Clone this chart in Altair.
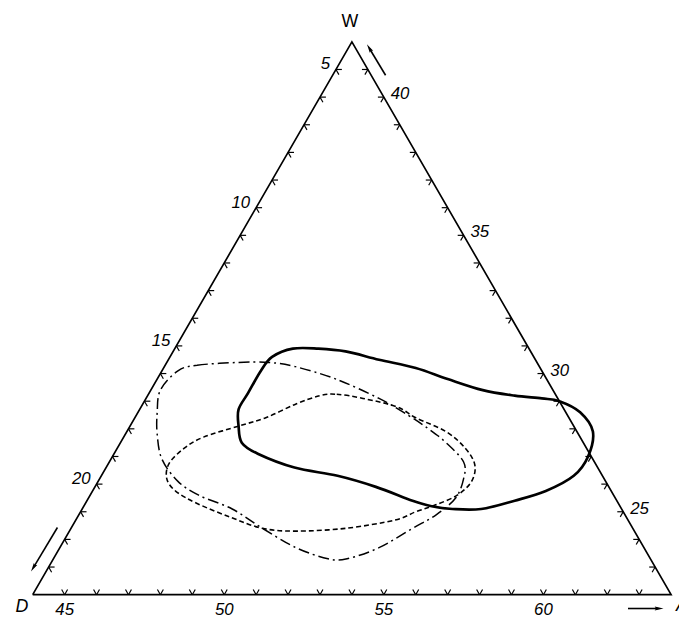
import math
import altair as alt
import pandas as pd

# Ternary ranges: A (bottom, 44..64), W (right edge, 22..42), D (left edge, 4..24); A+W+D = 90
A_MIN, W_MIN, D_MIN, SPAN, TOTAL = 44, 22, 4, 20, 90

bottom_ticks = list(range(45, 64))   # A values
right_ticks = list(range(23, 42))    # W values
left_ticks = list(range(5, 24))      # D values
bottom_labels = [45, 50, 55, 60]
right_labels = [25, 30, 35, 40]
left_labels = [5, 10, 15, 20]

# closed curves, as (A, W) compositions
solid_A = [47.7, 48.5, 49.4, 50.6, 51.9, 53.1, 54.4, 55.5, 56.4, 57.0, 57.85, 58.6, 58.9, 58.8, 58.2,
           57.4, 56.5, 55.6, 54.9, 54.2, 52.8, 51.4, 49.9, 48.5, 47.8, 47.4, 47.1, 47.1, 47.1, 47.2]
solid_W = [30.9, 30.9, 30.8, 30.5, 30.2, 29.8, 29.4, 29.2, 29.1, 29.0, 28.6, 27.9, 27.0, 26.3, 25.75,
           25.4, 25.1, 25.1, 25.2, 25.4, 25.9, 26.3, 26.6, 27.1, 27.5, 28.1, 28.7, 29.3, 30.1, 30.6]

dashed_A = [49.4, 49.9, 50.8, 52.0, 52.8, 54.0, 54.9, 55.5, 55.7, 55.5, 55.0, 54.5, 54.0, 52.6, 51.1,
            50.0, 48.8, 47.5, 46.6, 46.1, 45.9, 46.1, 46.5, 47.4, 48.1, 48.8]
dashed_W = [29.2, 29.25, 29.1, 28.8, 28.4, 27.9, 27.3, 26.7, 26.1, 25.6, 25.25, 25.0, 24.7, 24.4, 24.3,
            24.4, 24.8, 25.3, 25.75, 26.2, 26.75, 27.3, 27.7, 28.1, 28.4, 28.9]

dashdot_A = [44.5, 45.0, 46.2, 47.2, 48.1, 49.6, 51.3, 52.5, 53.4, 54.2, 55.1, 55.4, 55.5, 55.2, 54.7,
             54.0, 53.2, 52.6, 51.4, 50.0, 48.7, 47.4, 46.5, 45.6, 45.0, 44.6, 44.3]
dashdot_W = [30.1, 30.3, 30.4, 30.4, 30.25, 29.8, 29.1, 28.5, 28.0, 27.5, 26.8, 26.2, 25.5, 24.9, 24.4,
             23.7, 23.3, 23.3, 23.7, 24.4, 25.1, 25.6, 26.1, 26.9, 27.8, 28.6, 29.4]

# direction arrows (start A, end A), (start W, end W)
arrows_A = [(45.66, 44.68), (43.56, 43.53), (62.9, 63.85)]
arrows_W = [(40.79, 41.75), (24.43, 23.0), (21.5, 21.5)]

SQ3 = math.sqrt(3) / 2


def to_xy(A, W):
    a = (A - A_MIN) / SPAN
    w = (W - W_MIN) / SPAN
    return a + w / 2, w * SQ3


PX = 646.0
X0 = -25 / PX
X1 = X0 + 679 / PX
Y0 = -28 / PX
Y1 = Y0 + 618 / PX

xs = alt.Scale(domain=[X0, X1], nice=False, zero=False)
ys = alt.Scale(domain=[Y0, Y1], nice=False, zero=False)
X = alt.X("x:Q", scale=xs, axis=None)
Y = alt.Y("y:Q", scale=ys, axis=None)

# triangle outline
corners = [(A_MIN, W_MIN), (A_MIN + SPAN, W_MIN), (A_MIN, W_MIN + SPAN), (A_MIN, W_MIN)]
tri = pd.DataFrame([dict(x=to_xy(a, w)[0], y=to_xy(a, w)[1], o=i) for i, (a, w) in enumerate(corners)])
tri_chart = alt.Chart(tri).mark_line(color="black", strokeWidth=1.7).encode(x=X, y=Y, order="o:Q")

# tick chevrons
L = 6.0 / PX
rows = []
for v in bottom_ticks:
    x, y = to_xy(v, W_MIN)
    for dx, dy in [(-0.5, SQ3), (0.5, SQ3)]:
        rows.append(dict(x=x, y=y, x2=x + L * dx, y2=y + L * dy))
for v in right_ticks:
    x, y = to_xy(TOTAL - D_MIN - v, v)
    for dx, dy in [(-1, 0), (-0.5, -SQ3)]:
        rows.append(dict(x=x, y=y, x2=x + L * dx, y2=y + L * dy))
for v in left_ticks:
    x, y = to_xy(A_MIN, TOTAL - A_MIN - v)
    for dx, dy in [(1, 0), (0.5, -SQ3)]:
        rows.append(dict(x=x, y=y, x2=x + L * dx, y2=y + L * dy))
ticks = pd.DataFrame(rows)
tick_chart = alt.Chart(ticks).mark_rule(color="black", strokeWidth=1.2).encode(
    x=X, y=Y, x2=alt.X2("x2:Q"), y2=alt.Y2("y2:Q"))

# labels
FONT = "Liberation Sans"
bl = pd.DataFrame([dict(x=to_xy(v, W_MIN)[0], y=to_xy(v, W_MIN)[1], t=str(v)) for v in bottom_labels])
rl = pd.DataFrame([dict(x=to_xy(TOTAL - D_MIN - v, v)[0], y=to_xy(TOTAL - D_MIN - v, v)[1], t=str(v))
                   for v in right_labels])
ll = pd.DataFrame([dict(x=to_xy(A_MIN, TOTAL - A_MIN - v)[0], y=to_xy(A_MIN, TOTAL - A_MIN - v)[1], t=str(v))
                   for v in left_labels])
txt = dict(font=FONT, fontSize=17, fontStyle="italic", color="black", baseline="middle")
bl_chart = alt.Chart(bl).mark_text(align="center", dy=16, **txt).encode(x=X, y=Y, text="t:N")
rl_chart = alt.Chart(rl).mark_text(align="left", dx=7, dy=-3, **txt).encode(x=X, y=Y, text="t:N")
ll_chart = alt.Chart(ll).mark_text(align="right", dx=-6, dy=-5, **txt).encode(x=X, y=Y, text="t:N")

vx = pd.DataFrame([
    dict(x=to_xy(A_MIN, W_MIN + SPAN)[0], y=to_xy(A_MIN, W_MIN + SPAN)[1], t="W", dx=-2, dy=-20),
    dict(x=to_xy(A_MIN, W_MIN)[0], y=to_xy(A_MIN, W_MIN)[1], t="D", dx=-11, dy=13),
    dict(x=to_xy(A_MIN + SPAN, W_MIN)[0], y=to_xy(A_MIN + SPAN, W_MIN)[1], t="A", dx=11, dy=12),
])
vx_layers = [
    alt.Chart(vx.iloc[[i]]).mark_text(font=FONT, fontSize=18, fontStyle="italic" if r.t != "W" else "normal",
                                       align="center", baseline="middle", dx=int(r.dx), dy=int(r.dy)).encode(
        x=X, y=Y, text="t:N")
    for i, r in enumerate(vx.itertuples())
]


def curve(As, Ws):
    return pd.DataFrame([dict(x=to_xy(a, w)[0], y=to_xy(a, w)[1], o=i) for i, (a, w) in enumerate(zip(As, Ws))])


solid = alt.Chart(curve(solid_A, solid_W)).mark_line(
    interpolate="cardinal-closed", color="black", strokeWidth=2.7).encode(x=X, y=Y, order="o:Q")
dashed = alt.Chart(curve(dashed_A, dashed_W)).mark_line(
    interpolate="cardinal-closed", color="black", strokeWidth=1.6, strokeDash=[5, 3]).encode(x=X, y=Y, order="o:Q")
dashdot = alt.Chart(curve(dashdot_A, dashdot_W)).mark_line(
    interpolate="cardinal-closed", color="black", strokeWidth=1.5, strokeDash=[11, 4, 2, 4]).encode(
    x=X, y=Y, order="o:Q")

# arrows
arrow_layers = []
for (a0, a1), (w0, w1) in zip(arrows_A, arrows_W):
    x0, y0 = to_xy(a0, w0)
    x1, y1 = to_xy(a1, w1)
    ang = math.degrees(math.atan2(x1 - x0, y1 - y0)) % 360
    seg = pd.DataFrame([dict(x=x0, y=y0, x2=x1, y2=y1)])
    arrow_layers.append(alt.Chart(seg).mark_rule(color="black", strokeWidth=1.6).encode(
        x=X, y=Y, x2=alt.X2("x2:Q"), y2=alt.Y2("y2:Q")))
    arrow_layers.append(alt.Chart(seg).mark_point(
        shape="M0,-1L0.38,0.7L0,0.45L-0.38,0.7Z", filled=True, color="black", fill="black",
        size=110, opacity=1, strokeWidth=0, angle=round(ang, 2)).encode(
        x=alt.X("x2:Q", scale=xs, axis=None), y=alt.Y("y2:Q", scale=ys, axis=None)))

chart = alt.layer(
    tri_chart, tick_chart, bl_chart, rl_chart, ll_chart, *vx_layers,
    dashdot, dashed, solid, *arrow_layers
).properties(width=679, height=618, padding=0, autosize=alt.AutoSizeParams(type="none"),
             background="white").configure_view(stroke=None)

chart.save("out.html", embed_options={"renderer": "svg", "actions": False})
